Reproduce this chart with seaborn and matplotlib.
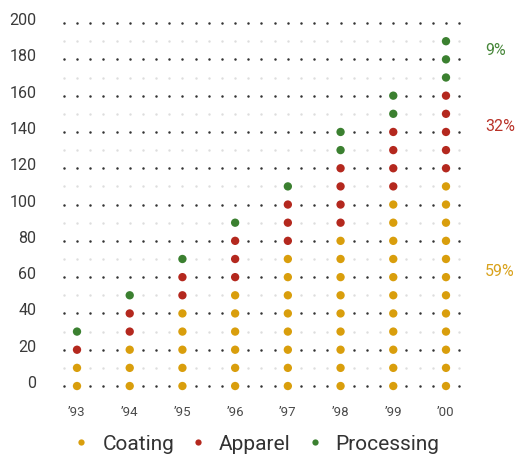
import numpy as np
import pandas as pd
import matplotlib
matplotlib.use("Agg")
import matplotlib.pyplot as plt
import seaborn as sns
from matplotlib.transforms import offset_copy

# Each dot stands for 10 units
years = ["\u201993", "\u201994", "\u201995", "\u201996", "\u201997", "\u201998", "\u201999", "\u201900"]
series = ["Coating", "Apparel", "Processing"]
coating = [2, 3, 5, 6, 8, 9, 11, 12]
apparel = [1, 2, 2, 3, 3, 4, 4, 5]
processing = [1, 1, 1, 1, 1, 2, 2, 3]
unit = 10
share_labels = ["59%", "32%", "9%"]
share_y = [63, 143, 185]

colors = {"Coating": "#d99e0c", "Apparel": "#b4281e", "Processing": "#3b8030"}
label_colors = {"Coating": "#d9a21c", "Apparel": "#b93228", "Processing": "#47873a"}

y_ticks = list(range(0, 201, 20))

# stack the dots year by year
rows = []
for i, yr in enumerate(years):
    level = 0
    for name, counts in zip(series, [coating, apparel, processing]):
        for _ in range(counts[i]):
            rows.append({"year": i, "value": level * unit, "series": name})
            level += 1
df = pd.DataFrame(rows)

sns.set_theme(style="white")
plt.rcParams["font.family"] = ["Roboto", "DejaVu Sans"]

W, H = 522, 459
fig = plt.figure(figsize=(W / 100, H / 100), dpi=100)
ax = fig.add_axes([60 / W, 1 - 400 / H, 430 / W, 390 / H])

# background dotted grid: dark rows on the 20s, faint rows in between
gx = np.arange(-0.25, 7.26, 0.25)
for yv in range(0, 201, 10):
    dark = yv % 20 == 0
    ax.scatter(gx, np.full_like(gx, yv), s=3.2 if dark else 3.0,
               color="#333333" if dark else "#dddddd", linewidths=0, zorder=1)

sns.scatterplot(data=df, x="year", y="value", hue="series", hue_order=series,
                palette=colors, s=36, linewidth=0, ax=ax, zorder=3, legend=False)

ax.set_xlim(-0.3225, 7.835)
ax.set_ylim(-7.7, 207.2)
ax.set_xticks(range(len(years)))
ax.set_xticklabels(years)
ax.set_yticks(y_ticks)
ax.set_yticklabels([str(v) for v in y_ticks])
ax.set_xlabel("")
ax.set_ylabel("")
for s in ax.spines.values():
    s.set_visible(False)
ax.tick_params(axis="both", length=0)
ax.tick_params(axis="y", labelsize=11.5, labelcolor="#3a3a3a", pad=17)
ax.tick_params(axis="x", labelsize=9.5, labelcolor="#4a4a4a", pad=4)
for lab in ax.get_yticklabels():
    lab.set_transform(offset_copy(lab.get_transform(), fig=fig, x=0, y=4, units="dots"))

# share annotations on the right
for name, txt, yv in zip(series, share_labels, share_y):
    ax.text(7.74, yv, txt, color=label_colors[name], fontsize=11.5,
            ha="left", va="center")

# legend along the bottom
handles = [plt.Line2D([], [], marker="o", linestyle="", markersize=4.5,
                      markerfacecolor=colors[n], markeredgewidth=0) for n in series]
fig.legend(handles, series, loc="center", bbox_to_anchor=(0.49, 1 - 444 / H),
           ncol=3, frameon=False, handletextpad=0.55,
           columnspacing=0.7, handlelength=0.9, labelcolor="#333333",
           prop={"family": ["Roboto", "DejaVu Sans"], "size": 15})

fig.savefig("out.png", dpi=100)
